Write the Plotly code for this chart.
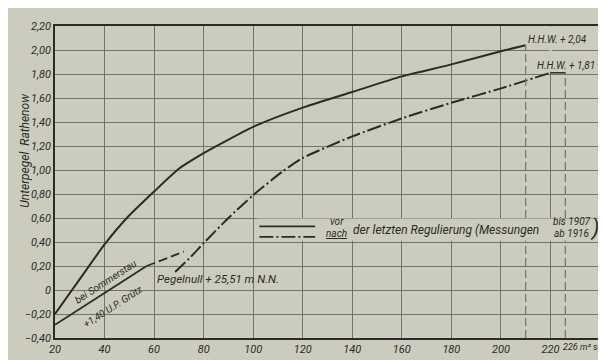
import plotly.graph_objects as go

# ---------------- data ----------------
x_vor = [20, 30, 40, 49, 60, 70, 80, 87, 100, 120, 140, 160, 180, 200, 210]
y_vor = [-0.20, 0.09, 0.38, 0.60, 0.82, 1.01, 1.14, 1.22, 1.36, 1.52, 1.65, 1.78, 1.88, 1.99, 2.04]

x_nach = [68.5, 75, 80, 90, 100, 112, 120, 140, 160, 180, 200, 220]
y_nach = [0.15, 0.28, 0.39, 0.60, 0.79, 0.99, 1.10, 1.28, 1.43, 1.56, 1.68, 1.81]

x_stau = [20, 57]
y_stau = [-0.29, 0.20]
x_stau_ext = [57, 72]
y_stau_ext = [0.20, 0.32]

hhw_vor_q, hhw_vor_w = 210, 2.04
hhw_nach_q, hhw_nach_w = 220, 1.81
hhw_nach_q2 = 226

x_ticks = [20, 40, 60, 80, 100, 120, 140, 160, 180, 200, 220]
x_tick_text = [str(v) for v in x_ticks]
y_ticks = [-0.4, -0.2, 0, 0.2, 0.4, 0.6, 0.8, 1.0, 1.2, 1.4, 1.6, 1.8, 2.0, 2.2]
y_tick_text = ["−0,40", "−0,20", "0", "0,20", "0,40", "0,60", "0,80", "1,00",
               "1,20", "1,40", "1,60", "1,80", "2,00", "2,20"]

# ---------------- style ----------------
BG = "#cbccbe"
INK = "#2b2b27"
GRID = "#74746b"
FONT = "Roboto, Liberation Sans, sans-serif"
DASHDOT = "14px,3px,2px,3px"


def f(size, color=INK):
    return dict(family=FONT, size=size, color=color, style="italic")


fig = go.Figure()

fig.add_trace(go.Scatter(x=x_vor, y=y_vor, mode="lines",
                         line=dict(color=INK, width=2, shape="spline", smoothing=0.6), showlegend=False))
fig.add_trace(go.Scatter(x=x_nach, y=y_nach, mode="lines",
                         line=dict(color=INK, width=2, dash=DASHDOT, shape="spline", smoothing=0.6),
                         showlegend=False))
fig.add_trace(go.Scatter(x=x_stau, y=y_stau, mode="lines", line=dict(color=INK, width=1.8), showlegend=False))
fig.add_trace(go.Scatter(x=x_stau_ext, y=y_stau_ext, mode="lines",
                         line=dict(color=INK, width=1.8, dash="9px,4px"), showlegend=False))

shapes = []
# hide the upper part of the 220 grid line (it starts at H.H.W. 1,81 in the original)
shapes.append(dict(type="rect", x0=219.5, x1=220.5, y0=hhw_nach_w + 0.01, y1=2.195, layer="above",
                   fillcolor=BG, line=dict(width=0)))
# HHW verticals
shapes.append(dict(type="line", x0=hhw_vor_q, x1=hhw_vor_q, y0=-0.4, y1=hhw_vor_w, layer="above",
                   line=dict(color=GRID, width=1.2, dash="8px,4px")))
shapes.append(dict(type="line", x0=hhw_nach_q2, x1=hhw_nach_q2, y0=-0.4, y1=hhw_nach_w, layer="above",
                   line=dict(color=GRID, width=1.2, dash="8px,4px")))
shapes.append(dict(type="line", x0=hhw_nach_q, x1=hhw_nach_q2, y0=hhw_nach_w, y1=hhw_nach_w, layer="above",
                   line=dict(color=INK, width=1.5)))
# legend background box
shapes.append(dict(type="rect", x0=101.5, x1=239.4, y0=0.41, y1=0.595, layer="above",
                   fillcolor=BG, line=dict(width=0)))
# legend sample lines
shapes.append(dict(type="line", x0=102.5, x1=125, y0=0.53, y1=0.53, layer="above",
                   line=dict(color=INK, width=1.6)))
shapes.append(dict(type="line", x0=102.5, x1=125, y0=0.443, y1=0.443, layer="above",
                   line=dict(color=INK, width=1.6, dash=DASHDOT)))

ann = []
ann.append(dict(text="vor", x=133.7, y=0.575, showarrow=False, font=f(10)))
ann.append(dict(text="<u>nach</u>", x=133.7, y=0.47, showarrow=False, font=f(10)))
ann.append(dict(text="der letzten Regulierung (Messungen", x=139.5, y=0.50, xanchor="left",
                showarrow=False, font=f(12)))
ann.append(dict(text="bis 1907", x=228.5, y=0.575, showarrow=False, font=f(10)))
ann.append(dict(text="ab 1916", x=228.5, y=0.47, showarrow=False, font=f(10)))
ann.append(dict(text=")", x=237.6, y=0.52, showarrow=False, font=f(22)))
ann.append(dict(text="H.H.W. + 2,04", x=222.9, y=2.09, showarrow=False, font=f(10)))
ann.append(dict(text="H.H.W. + 1,81", x=226.3, y=1.87, showarrow=False, font=f(10)))
ann.append(dict(text="Pegelnull + 25,51 m N.N.", x=60.2, y=0.09, xanchor="left", showarrow=False, font=f(11.5)))
ann.append(dict(text="bei Sommerstau", x=41.3, y=0.03, textangle=-33, xshift=-2, yshift=5,
                showarrow=False, font=f(10)))
ann.append(dict(text="+1,40 U.P. Grütz", x=42.2, y=-0.09, textangle=-33, xshift=3, yshift=-6,
                showarrow=False, font=f(10)))
ann.append(dict(text="226 m³ sek", xref="x", yref="paper", x=hhw_nach_q2, y=0, xanchor="left", yanchor="top",
                xshift=-3, yshift=-3, borderpad=0, showarrow=False, font=f(9)))
ann.append(dict(text="Unterpegel  Rathenow", xref="paper", yref="y", x=-0.055, y=1.16, xanchor="center",
                yanchor="middle", textangle=-90, showarrow=False, font=f(12)))

fig.update_layout(
    width=606, height=360,
    margin=dict(l=47, r=12, t=12, b=22),
    paper_bgcolor=BG, plot_bgcolor=BG,
    showlegend=False,
    shapes=shapes, annotations=ann,
    xaxis=dict(range=[20, 240], tickvals=x_ticks, ticktext=x_tick_text, showgrid=True,
               gridcolor=GRID, gridwidth=1,
               showline=True, mirror=True, linecolor=INK, linewidth=1.5, ticks="",
               zeroline=False, tickfont=f(11)),
    yaxis=dict(range=[-0.4, 2.2], tickvals=y_ticks, ticktext=y_tick_text, showgrid=True,
               gridcolor=GRID, gridwidth=1, showline=True, mirror=True, linecolor=INK, linewidth=1.5,
               ticks="", zeroline=False, tickfont=f(11)),
)

fig.write_html("out.html")
